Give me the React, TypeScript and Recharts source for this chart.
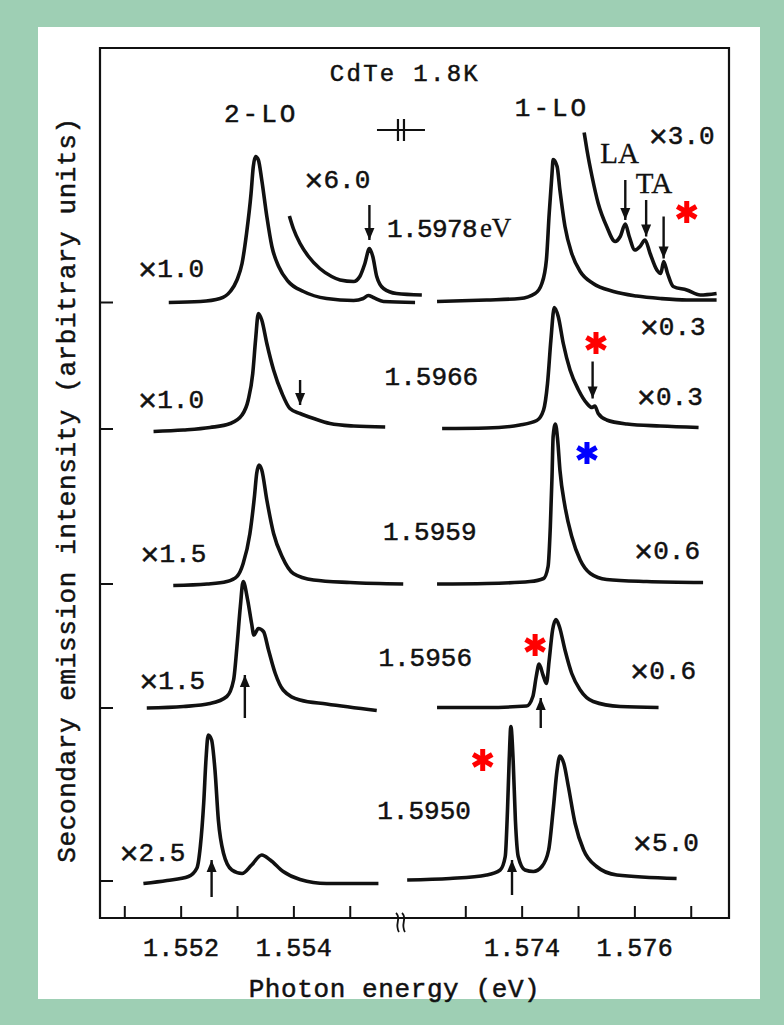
import React from "react";
import { LineChart, Line, XAxis, YAxis, ReferenceArea, ReferenceDot, ReferenceLine } from "recharts";

type Pt = [number, number];

// right half of the axis (1-LO) is slid left by SHIFT so the break closes up
const SHIFT = 0.01595;
const X_MIN = 1.55056;
const X_MAX = 1.56172;
const Y_MAX = 87;

const toU = (e: number) => (e > 1.565 ? e - SHIFT : e);
const fromU = (u: number) => (u > 1.556 ? u + SHIFT : u);

// baseline of each trace (arb. units), top to bottom
const baselines = [61.55, 48.9, 33.4, 21.0, 3.7];

// 1.5978 eV
const t1Left: Pt[] = [
  [1.55178, 0], [1.55234, 0.1], [1.55269, 0.4], [1.55287, 1.1], [1.55299, 2.25], [1.55308, 3.9],
  [1.55316, 6.9], [1.55324, 10.9], [1.55328, 13.6], [1.55332, 14.6], [1.55337, 14.25], [1.55343, 12.25],
  [1.55352, 8.6], [1.55361, 5.6], [1.55373, 3.6], [1.5539, 2.1], [1.55417, 1.1], [1.55458, 0.4],
  [1.55506, 0.2], [1.55523, 0.4], [1.55532, 0.7], [1.55541, 0.5], [1.55559, 0.1], [1.55615, 0],
];
const t1LeftX6: Pt[] = [
  [1.55392, 8.65], [1.55399, 7.4], [1.55411, 5.9], [1.55426, 4.6], [1.55446, 3.4], [1.55467, 2.6],
  [1.55482, 2.25], [1.55506, 2.1], [1.55517, 2.6], [1.55526, 3.9], [1.55534, 5.4], [1.5554, 4.6],
  [1.55547, 2.6], [1.55559, 1.4], [1.55582, 0.9], [1.55627, 0.75],
];
const t1Right: Pt[] = [
  [1.57249, 0.1], [1.57337, 0.25], [1.57396, 0.4], [1.57423, 0.9], [1.57435, 1.9], [1.57443, 4.25],
  [1.57448, 8.9], [1.57453, 12.9], [1.57455, 14.3], [1.57462, 13.6], [1.57467, 11.25], [1.57476, 7.6],
  [1.57488, 4.9], [1.57503, 3.1], [1.57526, 1.9], [1.57562, 1.1], [1.57603, 0.65], [1.57645, 0.4],
  [1.57692, 0.25], [1.57745, 0.25],
];
const t1RightX3: Pt[] = [
  [1.5751, 17.0], [1.57515, 15.25], [1.57524, 12.6], [1.57535, 9.9], [1.5755, 7.6], [1.57565, 6.1],
  [1.57574, 6.6], [1.57583, 7.85], [1.5759, 6.6], [1.576, 5.25], [1.57609, 5.6], [1.57618, 6.25],
  [1.57627, 4.9], [1.57639, 3.25], [1.57646, 2.9], [1.57651, 4.1], [1.57658, 2.9], [1.57668, 1.6],
  [1.57692, 1.25], [1.57716, 0.75], [1.57745, 0.9],
];

// 1.5966 eV
const t2Left: Pt[] = [
  [1.55151, -0.25], [1.55204, -0.1], [1.55251, 0.15], [1.55287, 0.55], [1.55308, 1.4], [1.55319, 2.9],
  [1.55327, 5.55], [1.55332, 8.9], [1.55337, 11.55], [1.55343, 10.9], [1.55352, 8.55], [1.55364, 5.9],
  [1.55379, 3.55], [1.55393, 2.05], [1.55411, 1.55], [1.55435, 1.05], [1.55464, 0.55], [1.55506, 0.3],
  [1.55562, 0.2],
];
const t2Right: Pt[] = [
  [1.57258, 0.05], [1.57337, 0.1], [1.57396, 0.4], [1.57426, 0.85], [1.57438, 1.9], [1.57445, 4.55],
  [1.57451, 8.9], [1.57457, 12.15], [1.57464, 11.25], [1.57473, 8.55], [1.57485, 5.9], [1.575, 3.9],
  [1.57515, 2.55], [1.57524, 2.15], [1.57529, 2.3], [1.57535, 1.55], [1.5755, 0.9], [1.57586, 0.5],
  [1.57645, 0.3], [1.57713, 0.15],
];

// 1.5959 eV
const t3Left: Pt[] = [
  [1.55186, -0.15], [1.55246, 0], [1.55281, 0.25], [1.55299, 0.75], [1.5531, 2.05], [1.55322, 5.05],
  [1.5533, 8.75], [1.55334, 11.05], [1.55338, 11.9], [1.55343, 11.4], [1.55352, 8.4], [1.55364, 5.05],
  [1.55379, 2.75], [1.55399, 1.05], [1.55435, 0.4], [1.555, 0.15], [1.55594, 0],
];
const t3Right: Pt[] = [
  [1.57249, 0], [1.57337, 0.05], [1.57414, 0.25], [1.57438, 0.55], [1.57446, 1.75], [1.5745, 5.75],
  [1.57453, 10.75], [1.57455, 14.75], [1.57459, 16.0], [1.57463, 14.4], [1.57467, 11.4], [1.57476, 7.75],
  [1.57488, 4.75], [1.57503, 2.4], [1.57521, 1.05], [1.5755, 0.45], [1.57621, 0.25], [1.57721, 0.15],
];

// 1.5956 eV
const t4Left: Pt[] = [
  [1.55139, 0], [1.55204, 0.15], [1.55251, 0.45], [1.55281, 1.15], [1.55293, 2.8], [1.55299, 6.15],
  [1.55305, 10.15], [1.5531, 12.65], [1.55318, 10.8], [1.55325, 8.45], [1.55329, 7.3], [1.55337, 7.95],
  [1.55346, 7.65], [1.55355, 5.8], [1.55367, 3.45], [1.55381, 1.8], [1.55411, 0.8], [1.55458, 0.4],
  [1.55547, -0.25],
];
const t4Right: Pt[] = [
  [1.57249, 0.05], [1.57337, 0.05], [1.57408, 0.2], [1.57419, 1.15], [1.57425, 3.15], [1.5743, 4.4],
  [1.57437, 3.3], [1.57443, 2.45], [1.57448, 4.8], [1.57454, 7.8], [1.5746, 8.85], [1.57466, 8.15],
  [1.57476, 5.8], [1.57488, 3.45], [1.57503, 1.8], [1.57526, 0.65], [1.57574, 0.15], [1.57642, 0.05],
];

// 1.5950 eV
const t5Left: Pt[] = [
  [1.55133, -0.25], [1.55175, 0.05], [1.55213, 0.45], [1.55228, 1.3], [1.55234, 3.45], [1.5524, 7.8],
  [1.55244, 12.1], [1.55248, 14.6], [1.55254, 14.1], [1.5526, 11.1], [1.55266, 6.1], [1.55275, 2.8],
  [1.5529, 1.1], [1.55308, 0.75], [1.55325, 1.6], [1.55343, 2.6], [1.55358, 2.1], [1.55381, 0.95],
  [1.55411, 0.15], [1.55458, -0.25], [1.5555, -0.25],
];
const t5Right: Pt[] = [
  [1.57196, 0.1], [1.57272, 0.25], [1.57337, 0.6], [1.57361, 1.1], [1.5737, 2.45], [1.57374, 7.1],
  [1.57377, 12.1], [1.5738, 15.45], [1.57384, 12.1], [1.57388, 6.1], [1.57393, 2.45], [1.57405, 1.1],
  [1.5742, 0.95], [1.57435, 1.45], [1.57447, 3.1], [1.57455, 7.1], [1.57462, 11.1], [1.57467, 12.5],
  [1.57474, 11.75], [1.57482, 9.45], [1.57494, 5.75], [1.57509, 3.1], [1.57532, 1.45], [1.57568, 0.6],
  [1.57674, 0.25],
];

const traceSegments: Pt[][][] = [
  [t1Left, t1LeftX6, t1Right, t1RightX3],
  [t2Left, t2Right],
  [t3Left, t3Right],
  [t4Left, t4Right],
  [t5Left, t5Right],
];

// x ticks (eV)
const xTicksE = [1.551, 1.552, 1.553, 1.554, 1.555, 1.573, 1.574, 1.575, 1.576, 1.577];
const labeledTicks = [1.552, 1.554, 1.574, 1.576];

// arrows: energy, tail y, head y
const arrows = [
  { e: 1.55534, from: 71.3, to: 67.8 },
  { e: 1.57583, from: 73.8, to: 69.8 },
  { e: 1.5762, from: 71.8, to: 68.15 },
  { e: 1.57651, from: 70.15, to: 65.95 },
  { e: 1.55411, from: 53.8, to: 51.3 },
  { e: 1.57525, from: 55.65, to: 51.95 },
  { e: 1.55313, from: 20.0, to: 24.3 },
  { e: 1.57433, from: 19.0, to: 22.0 },
  { e: 1.55254, from: 2.1, to: 5.8 },
  { e: 1.57382, from: 2.3, to: 5.8 },
];

const notes = [
  { e: 1.55597, y: 84.6, text: "CdTe 1.8K", kind: "title" },
  { e: 1.55342, y: 80.5, text: "2-LO", kind: "lo" },
  { e: 1.57453, y: 81.1, text: "1-LO", kind: "lo" },
  { e: 1.57683, y: 78.3, text: "×3.0", kind: "mono" },
  { e: 1.57573, y: 76.5, text: "LA", kind: "serif" },
  { e: 1.57634, y: 73.5, text: "TA", kind: "serif" },
  { e: 1.55477, y: 73.9, text: "×6.0", kind: "mono" },
  { e: 1.55182, y: 65.0, text: "×1.0", kind: "mono" },
  { e: 1.57667, y: 59.2, text: "×0.3", kind: "mono" },
  { e: 1.55182, y: 51.9, text: "×1.0", kind: "mono" },
  { e: 1.55644, y: 54.2, text: "1.5966", kind: "mono" },
  { e: 1.57662, y: 52.2, text: "×0.3", kind: "mono" },
  { e: 1.55186, y: 36.5, text: "×1.5", kind: "mono" },
  { e: 1.55641, y: 38.7, text: "1.5959", kind: "mono" },
  { e: 1.57657, y: 36.8, text: "×0.6", kind: "mono" },
  { e: 1.55184, y: 23.8, text: "×1.5", kind: "mono" },
  { e: 1.55633, y: 26.1, text: "1.5956", kind: "mono" },
  { e: 1.5765, y: 24.8, text: "×0.6", kind: "mono" },
  { e: 1.55149, y: 6.6, text: "×2.5", kind: "mono" },
  { e: 1.55631, y: 10.8, text: "1.5950", kind: "mono" },
  { e: 1.57655, y: 7.6, text: "×5.0", kind: "mono" },
];

const stars = [
  { e: 1.57692, y: 70.6, color: "#ff0000" },
  { e: 1.57531, y: 57.5, color: "#ff0000" },
  { e: 1.57515, y: 46.5, color: "#0000ff" },
  { e: 1.57423, y: 27.3, color: "#ff0000" },
  { e: 1.5733, y: 15.8, color: "#ff0000" },
];

const INK = "#111";
const MONO = "'Liberation Mono', 'DejaVu Sans Mono', monospace";
const SERIF = "'Liberation Serif', 'DejaVu Serif', serif";
// scanned typewriter text is heavier than a plain font
const INKED = { fill: INK, stroke: INK, strokeWidth: 0.5 };

const series = traceSegments.flatMap((segs, i) =>
  segs.map((seg, j) => ({
    key: `t${i}-${j}`,
    data: seg.map(([e, v]) => ({ u: toU(e), y: baselines[i] + v })),
  }))
);

const renderXTick = (props: any) => {
  const { x, y, payload } = props;
  const e = fromU(payload.value);
  const show = labeledTicks.some((t) => Math.abs(t - e) < 1e-6);
  return (
    <g>
      <line x1={x} y1={y} x2={x} y2={y - 12} stroke={INK} strokeWidth={2} />
      {show && (
        <text x={x} y={y + 38} textAnchor="middle" fontFamily={MONO} fontSize={25} letterSpacing={0.3} {...INKED}>
          {e.toFixed(3)}
        </text>
      )}
    </g>
  );
};

const renderYTick = (props: any) => {
  const { x, y } = props;
  return <line x1={x} y1={y} x2={x + 13} y2={y} stroke={INK} strokeWidth={2} />;
};

const renderNote = (n: { text: string; kind: string }) => (p: any) => {
  const { cx, cy } = p;
  if (n.kind === "serif") {
    return (
      <text x={cx} y={cy + 10} textAnchor="middle" fontFamily={SERIF} fontSize={29} {...INKED} strokeWidth={0.3}>
        {n.text}
      </text>
    );
  }
  if (n.text.startsWith("×")) {
    return (
      <text x={cx} y={cy + 9} textAnchor="middle" fontFamily={MONO} {...INKED}>
        <tspan fontSize={32} dy={3}>×</tspan>
        <tspan fontSize={26} dy={-3}>{n.text.slice(1)}</tspan>
      </text>
    );
  }
  const size = n.kind === "title" ? 24 : 26;
  const ls = n.kind === "title" ? 2.3 : n.kind === "lo" ? 3 : 0;
  return (
    <text x={cx} y={cy + 9} textAnchor="middle" fontFamily={MONO} fontSize={size} letterSpacing={ls} {...INKED}>
      {n.text}
    </text>
  );
};

const renderStar = (color: string) => (p: any) => {
  const { cx, cy } = p;
  const r = 11;
  const dx = r * Math.cos(Math.PI / 6);
  const dy = r * Math.sin(Math.PI / 6);
  return (
    <g stroke={color} strokeWidth={5}>
      <line x1={cx} y1={cy - r} x2={cx} y2={cy + r} />
      <line x1={cx - dx} y1={cy - dy} x2={cx + dx} y2={cy + dy} />
      <line x1={cx - dx} y1={cy + dy} x2={cx + dx} y2={cy - dy} />
    </g>
  );
};

const renderHead = (down: boolean) => (p: any) => {
  const { cx, cy } = p;
  const back = down ? -12 : 12;
  return <path d={`M${cx},${cy} L${cx - 5},${cy + back} L${cx + 5},${cy + back} Z`} fill={INK} />;
};

export default function App() {
  return (
    <div style={{ position: "absolute", left: 0, top: 0, width: 784, height: 1025, background: "#9ecfb4" }}>
      <div style={{ position: "absolute", left: 38, top: 27, width: 722, height: 972, background: "#fff" }} />
      <div style={{ position: "absolute", left: 0, top: 0 }}>
        <LineChart width={784} height={1025} margin={{ top: 48, right: 55, bottom: 77, left: 40 }}>
          <XAxis
            type="number"
            dataKey="u"
            domain={[X_MIN, X_MAX]}
            allowDataOverflow
            ticks={xTicksE.map(toU)}
            interval={0}
            tick={renderXTick}
            tickLine={false}
            axisLine={false}
            tickSize={0}
            tickMargin={0}
            height={30}
            label={(p: any) => {
              const vb = p.viewBox;
              return (
                <text x={vb.x + vb.width / 2 - 20} y={vb.y + 79} textAnchor="middle"
                  fontFamily={MONO} fontSize={26} letterSpacing={0.6} {...INKED}>
                  Photon energy (eV)
                </text>
              );
            }}
          />
          <YAxis
            type="number"
            domain={[0, Y_MAX]}
            ticks={baselines}
            interval={0}
            tick={renderYTick}
            tickLine={false}
            axisLine={false}
            tickSize={0}
            tickMargin={0}
            width={60}
            label={(p: any) => {
              const vb = p.viewBox;
              const cx = vb.x + vb.width - 32;
              const cy = vb.y + vb.height / 2 + 7;
              return (
                <text x={cx} y={cy} transform={`rotate(-90 ${cx} ${cy})`} textAnchor="middle" dominantBaseline="central"
                  fontFamily={MONO} fontSize={26} letterSpacing={0.6} {...INKED}>
                  Secondary emission intensity (arbitrary units)
                </text>
              );
            }}
          />
          <ReferenceArea x1={X_MIN} x2={X_MAX} y1={0} y2={Y_MAX} fill="none" fillOpacity={0} stroke={INK} strokeWidth={2.2} ifOverflow="visible" />
          {series.map((s) => (
            <Line key={s.key} data={s.data} dataKey="y" type="monotone" stroke={INK} strokeWidth={3.6}
              dot={false} activeDot={false} isAnimationActive={false} />
          ))}
          {arrows.map((a, i) => (
            <ReferenceLine key={`as${i}`} segment={[{ x: toU(a.e), y: a.from }, { x: toU(a.e), y: a.to }]}
              stroke={INK} strokeWidth={2.4} ifOverflow="visible" />
          ))}
          {arrows.map((a, i) => (
            <ReferenceDot key={`ah${i}`} x={toU(a.e)} y={a.to} ifOverflow="visible" shape={renderHead(a.to < a.from)} />
          ))}
          {notes.map((n, i) => (
            <ReferenceDot key={`n${i}`} x={toU(n.e)} y={n.y} ifOverflow="visible" shape={renderNote(n)} />
          ))}
          <ReferenceDot x={1.55565} y={69.0} ifOverflow="visible" shape={(p: any) => (
            <text x={p.cx} y={p.cy + 9} {...INKED}>
              <tspan fontFamily={MONO} fontSize={26} letterSpacing={-0.6}>1.5978</tspan>
              <tspan fontFamily={SERIF} fontSize={27} dx={3} strokeWidth={0.3}>eV</tspan>
            </text>
          )} />
          <ReferenceDot x={1.5559} y={78.8} ifOverflow="visible" shape={(p: any) => (
            <g stroke={INK} strokeWidth={2.2}>
              <line x1={p.cx - 24} y1={p.cy} x2={p.cx + 24} y2={p.cy} />
              <line x1={p.cx - 3} y1={p.cy - 11} x2={p.cx - 3} y2={p.cy + 11} />
              <line x1={p.cx + 3} y1={p.cy - 11} x2={p.cx + 3} y2={p.cy + 11} />
            </g>
          )} />
          <ReferenceDot x={1.5559} y={0} ifOverflow="visible" shape={(p: any) => (
            <g stroke={INK} strokeWidth={1.8} fill="none">
              {[-3, 3].map((d) => (
                <path key={d} d={`M${p.cx + d - 2},${p.cy - 5} C${p.cx + d + 4},${p.cy} ${p.cx + d - 4},${p.cy + 6} ${p.cx + d + 1},${p.cy + 14}`} />
              ))}
            </g>
          )} />
          {stars.map((s, i) => (
            <ReferenceDot key={`s${i}`} x={toU(s.e)} y={s.y} ifOverflow="visible" shape={renderStar(s.color)} />
          ))}
        </LineChart>
      </div>
    </div>
  );
}
